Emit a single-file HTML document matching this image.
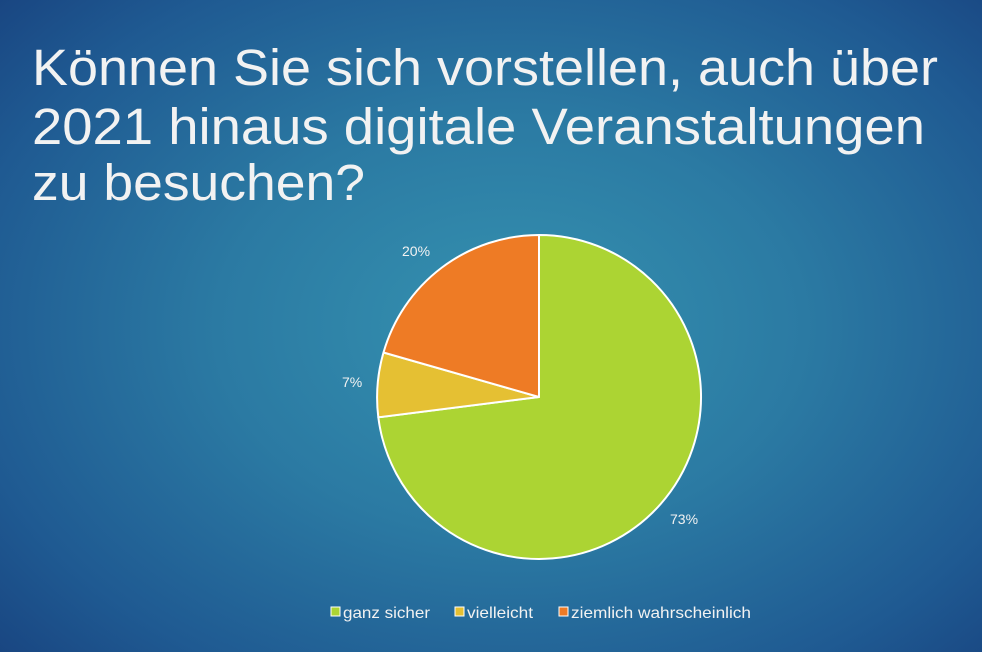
<!DOCTYPE html>
<html><head><meta charset="utf-8"><style>
html,body{margin:0;padding:0;}
body{width:982px;height:652px;overflow:hidden;background:radial-gradient(ellipse 75% 80% at 52% 50%,#3592b0 0%,#2b7aa3 40%,#1f5a92 75%,#173f7c 100%);}
</style></head><body>
<svg width="982" height="652" xmlns="http://www.w3.org/2000/svg" style="position:absolute;left:0;top:0">
<g font-family="Liberation Sans, sans-serif" fill="#f2f2f2" font-size="51">
<text x="32" y="85" textLength="906" lengthAdjust="spacingAndGlyphs">Können Sie sich vorstellen, auch über</text>
<text x="32" y="144" textLength="893" lengthAdjust="spacingAndGlyphs">2021 hinaus digitale Veranstaltungen</text>
<text x="32" y="200" textLength="333" lengthAdjust="spacingAndGlyphs">zu besuchen?</text>
</g>
<g stroke="#ffffff" stroke-width="2" stroke-linejoin="round">
<path d="M539,397 L539,235 A162,162 0 1,1 378.3,417.3 Z" fill="#acd433"/>
<path d="M539,397 L378.3,417.3 A162,162 0 0,1 383.5,352.5 Z" fill="#e5c033"/>
<path d="M539,397 L383.5,352.5 A162,162 0 0,1 539,235 Z" fill="#ee7b25"/>
</g>
<g font-family="Liberation Sans, sans-serif" fill="#f2f2f2" font-size="14">
<text x="402" y="256">20%</text>
<text x="342" y="387">7%</text>
<text x="670" y="524">73%</text>
</g>
<g font-family="Liberation Sans, sans-serif" fill="#f2f2f2" font-size="16">
<rect x="331" y="607" width="9" height="9" fill="#acd433" stroke="#fff" stroke-width="1"/>
<text x="343" y="618" textLength="87" lengthAdjust="spacingAndGlyphs">ganz sicher</text>
<rect x="455" y="607" width="9" height="9" fill="#e5c033" stroke="#fff" stroke-width="1"/>
<text x="467" y="618" textLength="66" lengthAdjust="spacingAndGlyphs">vielleicht</text>
<rect x="559" y="607" width="9" height="9" fill="#ee7b25" stroke="#fff" stroke-width="1"/>
<text x="571" y="618" textLength="180" lengthAdjust="spacingAndGlyphs">ziemlich wahrscheinlich</text>
</g>
</svg>
</body></html>
